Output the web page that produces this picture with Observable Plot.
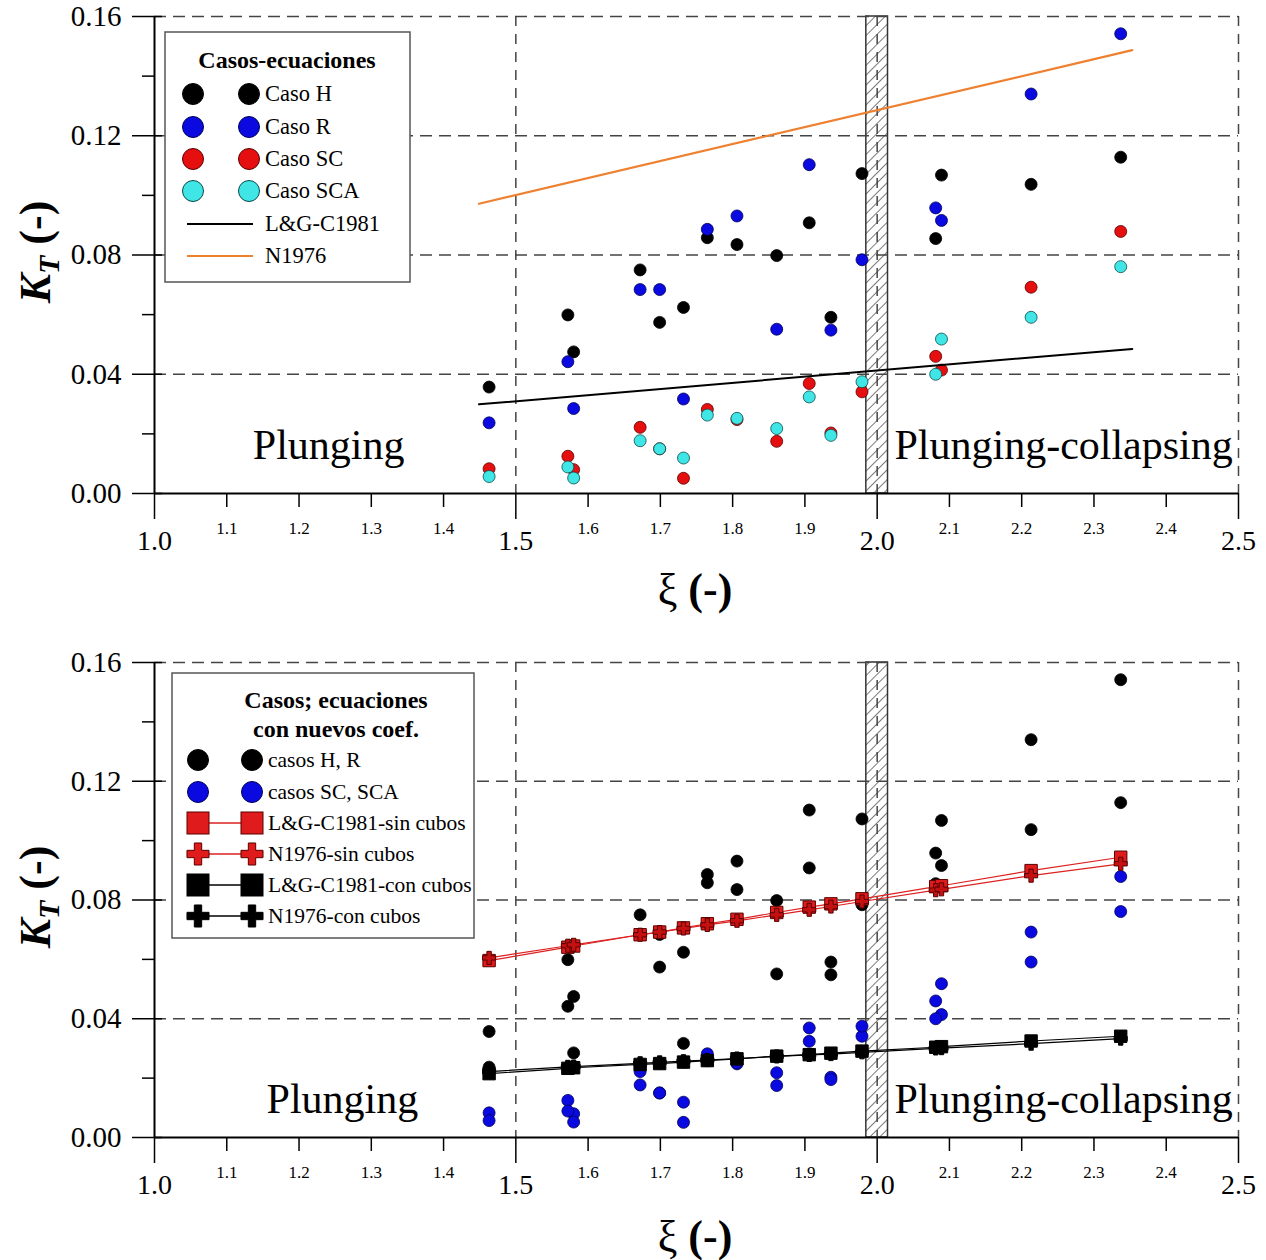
<!DOCTYPE html>
<html><head><meta charset="utf-8">
<script src="https://cdn.jsdelivr.net/npm/d3@7"></script>
<script src="https://cdn.jsdelivr.net/npm/@observablehq/plot@0.6"></script>
<style>
body{margin:0;background:#fff;}
#wrap{position:relative;width:1266px;height:1260px;background:#fff;}
#wrap svg{display:block;}
</style>
</head><body><div id="wrap"></div>
<script>
// ---------- data ----------
const xi       = [1.463,1.572,1.580,1.672,1.699,1.732,1.765,1.806,1.861,1.906,1.936,1.979,2.081,2.089,2.213,2.337];
const casoH    = [0.0357,0.0599,0.0475,0.0750,0.0574,0.0624,0.0858,0.0835,0.0798,0.0908,0.0591,0.1073,0.0855,0.1068,0.1037,0.1128];
const casoR    = [0.0237,0.0442,0.0285,0.0684,0.0684,0.0317,0.0886,0.0931,0.0551,0.1103,0.0548,0.0784,0.0958,0.0916,0.1340,0.1542];
const casoSC   = [0.0083,0.0125,0.0080,0.0222,0.0150,0.0051,0.0282,0.0248,0.0175,0.0369,0.0203,0.0341,0.0460,0.0414,0.0692,0.0879];
const casoSCA  = [0.0057,0.0089,0.0052,0.0177,0.0150,0.0119,0.0263,0.0252,0.0218,0.0324,0.0195,0.0375,0.0400,0.0518,0.0591,0.0761];
// equations with original coefficients (top panel)
const eqX      = [1.449, 2.353];
const lgC1981  = [0.0299, 0.0485];
const n1976    = [0.0972, 0.1487];
// equations with new coefficients (bottom panel), evaluated at each xi
const lgSin    = [0.0596,0.0641,0.0645,0.0683,0.0692,0.0706,0.0720,0.0735,0.0758,0.0776,0.0787,0.0804,0.0845,0.0848,0.0899,0.0944];
const nSin     = [0.0605,0.0646,0.0649,0.0683,0.0692,0.0704,0.0716,0.0730,0.0750,0.0767,0.0778,0.0795,0.0833,0.0836,0.0882,0.0922];
const lgCon    = [0.0215,0.0233,0.0235,0.0246,0.0249,0.0254,0.0259,0.0265,0.0274,0.0279,0.0284,0.0291,0.0304,0.0306,0.0325,0.0341];
const nCon     = [0.0222,0.0238,0.0239,0.0250,0.0253,0.0257,0.0261,0.0266,0.0273,0.0278,0.0281,0.0287,0.0300,0.0301,0.0316,0.0333];
// axes
const xMajorTicks = [1.0,1.5,2.0,2.5];
const xMinorTicks = [1.1,1.2,1.3,1.4,1.6,1.7,1.8,1.9,2.1,2.2,2.3,2.4];
const yMajorTicks = [0,0.04,0.08,0.12,0.16];
const yMinorTicks = [0.02,0.06,0.10,0.14];
const gridY = [0.04,0.08,0.12,0.16];
const gridX = [1.5,2.0,2.5];
const band = [{x1:1.985, x2:2.015}];
const regimes = ["Plunging","Plunging-collapsing"];
const legendTop = ["Caso H","Caso R","Caso SC","Caso SCA","L&G-C1981","N1976"];
const legendBottom = ["casos H, R","casos SC, SCA","L&G-C1981-sin cubos","N1976-sin cubos","L&G-C1981-con cubos","N1976-con cubos"];

const rows = xi.map((x,i)=>({xi:x,H:casoH[i],R:casoR[i],SC:casoSC[i],SCA:casoSCA[i],lgSin:lgSin[i],nSin:nSin[i],lgCon:lgCon[i],nCon:nCon[i]}));
const eqRows = eqX.map((x,i)=>({xi:x,lg:lgC1981[i],n:n1976[i]}));

const FONT = "'Liberation Serif','Times New Roman',serif";
const COL = {black:"#000", blue:"#0a0ae0", red:"#e60f0f", cyan:"#40e6e6", orange:"#ee8030",
             blueS:"#00005a", redS:"#5a0000", cyanS:"#0a4a4a"};

function frameMarks(id){
  return [
    Plot.rect(band,{x1:"x1",x2:"x2",y1:0,y2:0.16,fill:`url(#${id})`,stroke:"#333",strokeWidth:1.5}),
    Plot.ruleY(gridY,{stroke:"#444",strokeWidth:1.5,strokeDasharray:"12,7"}),
    Plot.ruleX(gridX,{stroke:"#444",strokeWidth:1.5,strokeDasharray:"10,8"}),
    Plot.axisX({ticks:xMinorTicks,tickSize:14,tickPadding:14,fontSize:17,tickFormat:d=>d.toFixed(1),label:null,strokeWidth:1.5}),
    Plot.axisX({ticks:xMajorTicks,tickSize:26,tickPadding:11,fontSize:28,tickFormat:d=>d.toFixed(1),label:null,strokeWidth:1.5}),
    Plot.axisY({ticks:yMajorTicks,tickSize:30,dx:8,tickPadding:11,fontSize:29,tickFormat:d=>d.toFixed(2),label:null,strokeWidth:1.5}),
    Plot.axisY({ticks:yMinorTicks,tickSize:12,tickFormat:()=>"",label:null,strokeWidth:1.5}),
    Plot.ruleY([0],{stroke:"#000",strokeWidth:2}),
    Plot.ruleX([1.0],{stroke:"#000",strokeWidth:2})
  ];
}

function addDefs(svg,id){
  const defs = d3.select(svg).insert("defs",":first-child");
  const p = defs.append("pattern").attr("id",id).attr("patternUnits","userSpaceOnUse")
    .attr("width",7).attr("height",7).attr("patternTransform","rotate(45)");
  p.append("rect").attr("width",7).attr("height",7).attr("fill","#fff");
  p.append("line").attr("x1",0).attr("y1",0).attr("x2",0).attr("y2",7).attr("stroke","#333").attr("stroke-width",1.3);
}

function yLabel(svg,cx,cy){
  const t = d3.select(svg).append("text").attr("transform",`translate(${cx},${cy}) rotate(-90)`)
    .attr("text-anchor","middle").attr("font-family",FONT).attr("font-size",44).attr("font-weight","bold").attr("fill","#000");
  t.append("tspan").attr("font-style","italic").text("K");
  t.append("tspan").attr("font-style","italic").attr("font-size",30).attr("dy",9).text("T");
  t.append("tspan").attr("dy",-9).text(" (-)");
}
function xLabel(svg,cx,by){
  const t = d3.select(svg).append("text").attr("x",cx).attr("y",by).attr("text-anchor","middle")
    .attr("font-family",FONT).attr("font-size",44).attr("fill","#000");
  t.append("tspan").text("ξ");
  t.append("tspan").attr("font-weight","bold").text(" (-)");
}

function sym(g,kind,x,y,fill,stroke){
  if(kind==="dot"){
    g.append("circle").attr("cx",x).attr("cy",y).attr("r",10.5).attr("fill",fill).attr("stroke",stroke).attr("stroke-width",1);
  } else if(kind==="square"){
    g.append("rect").attr("x",x-11).attr("y",y-11).attr("width",22).attr("height",22).attr("fill",fill).attr("stroke",stroke).attr("stroke-width",1);
  } else if(kind==="cross"){
    g.append("path").attr("transform",`translate(${x},${y})`).attr("d",d3.symbol(d3.symbolCross,270)()).attr("fill",fill).attr("stroke",stroke).attr("stroke-width",1);
  }
}

function legend(svg,spec){
  const g = d3.select(svg).append("g").attr("font-family",FONT).attr("fill","#000");
  g.append("rect").attr("x",spec.box[0]).attr("y",spec.box[1]).attr("width",spec.box[2]).attr("height",spec.box[3])
    .attr("fill","#fff").attr("stroke","#555").attr("stroke-width",1.5);
  spec.title.forEach((t,i)=>g.append("text").attr("x",spec.titleX).attr("y",spec.titleY[i]).attr("text-anchor","middle")
    .attr("font-size",spec.titleSize).attr("font-weight","bold").text(t));
  spec.items.forEach((it,i)=>{
    const y = spec.rowY[i];
    if(it.line) g.append("line").attr("x1",spec.lineX[0]).attr("x2",spec.lineX[1]).attr("y1",y).attr("y2",y)
      .attr("stroke",it.line).attr("stroke-width",it.lw||1.3);
    if(it.kind){ sym(g,it.kind,spec.symX[0],y,it.fill,it.stroke); sym(g,it.kind,spec.symX[1],y,it.fill,it.stroke); }
    g.append("text").attr("x",spec.labelX).attr("y",y+7).attr("text-anchor","start")
      .attr("font-size",spec.labelSize).attr("fill","#000").text(it.label);
  });
}

const wrap = document.getElementById("wrap");

// ---------------- TOP PANEL ----------------
const topPlot = Plot.plot({
  width:1266, height:640,
  marginLeft:154, marginRight:28, marginTop:16, marginBottom:147,
  x:{domain:[1.0,2.5]}, y:{domain:[0,0.16]},
  style:{fontFamily:FONT, color:"#000", background:"transparent", overflow:"visible"},
  marks:[
    ...frameMarks("hatchTop"),
    Plot.text([regimes[0]],{x:1.241,y:0.0162,text:d=>d,fontSize:42,fontFamily:FONT,fill:"#000"}),
    Plot.text([regimes[1]],{x:2.258,y:0.0162,text:d=>d,fontSize:42,fontFamily:FONT,fill:"#000"}),
    Plot.dot(rows,{x:"xi",y:"H",r:6,fill:COL.black,stroke:"#000",strokeWidth:0.8}),
    Plot.dot(rows,{x:"xi",y:"R",r:6,fill:COL.blue,stroke:COL.blueS,strokeWidth:0.8}),
    Plot.dot(rows,{x:"xi",y:"SC",r:6,fill:COL.red,stroke:COL.redS,strokeWidth:0.8}),
    Plot.dot(rows,{x:"xi",y:"SCA",r:6,fill:COL.cyan,stroke:COL.cyanS,strokeWidth:0.8}),
    Plot.line(eqRows,{x:"xi",y:"lg",stroke:"#000",strokeWidth:2}),
    Plot.line(eqRows,{x:"xi",y:"n",stroke:COL.orange,strokeWidth:2.2})
  ]
});
addDefs(topPlot,"hatchTop");
legend(topPlot,{box:[165,32,245,250],title:["Casos-ecuaciones"],titleX:287,titleY:[68],titleSize:24,labelSize:22.5,
  rowY:[94,127,159,191,224,256],symX:[193,249],lineX:[187,253],labelX:265,
  items:[
    {kind:"dot",fill:COL.black,stroke:"#000",label:legendTop[0]},
    {kind:"dot",fill:COL.blue,stroke:COL.blueS,label:legendTop[1]},
    {kind:"dot",fill:COL.red,stroke:COL.redS,label:legendTop[2]},
    {kind:"dot",fill:COL.cyan,stroke:COL.cyanS,label:legendTop[3]},
    {line:"#000",lw:2,label:legendTop[4]},
    {line:COL.orange,lw:2,label:legendTop[5]}
  ]});
yLabel(topPlot,50,252);
xLabel(topPlot,695,604);
wrap.appendChild(topPlot);

// ---------------- BOTTOM PANEL ----------------
const bottomPlot = Plot.plot({
  width:1266, height:620,
  marginLeft:154, marginRight:28, marginTop:22, marginBottom:123,
  x:{domain:[1.0,2.5]}, y:{domain:[0,0.16]},
  style:{fontFamily:FONT, color:"#000", background:"transparent", overflow:"visible"},
  marks:[
    ...frameMarks("hatchBot"),
    Plot.text([regimes[0]],{x:1.260,y:0.0128,text:d=>d,fontSize:42,fontFamily:FONT,fill:"#000"}),
    Plot.text([regimes[1]],{x:2.258,y:0.0128,text:d=>d,fontSize:42,fontFamily:FONT,fill:"#000"}),
    Plot.dot(rows,{x:"xi",y:"H",r:6,fill:COL.black,stroke:"#000",strokeWidth:0.8}),
    Plot.dot(rows,{x:"xi",y:"R",r:6,fill:COL.black,stroke:"#000",strokeWidth:0.8}),
    Plot.dot(rows,{x:"xi",y:"SC",r:6,fill:COL.blue,stroke:COL.blueS,strokeWidth:0.8}),
    Plot.dot(rows,{x:"xi",y:"SCA",r:6,fill:COL.blue,stroke:COL.blueS,strokeWidth:0.8}),
    Plot.line(rows,{x:"xi",y:"lgCon",stroke:"#000",strokeWidth:1.2}),
    Plot.line(rows,{x:"xi",y:"nCon",stroke:"#000",strokeWidth:1.2}),
    Plot.dot(rows,{x:"xi",y:"lgCon",symbol:"square",r:7,fill:"#000",stroke:"#000",strokeWidth:1}),
    Plot.dot(rows,{x:"xi",y:"nCon",symbol:"cross",r:5.5,fill:"#000",stroke:"#000",strokeWidth:1}),
    Plot.line(rows,{x:"xi",y:"lgSin",stroke:"#dd2020",strokeWidth:1.2}),
    Plot.line(rows,{x:"xi",y:"nSin",stroke:"#dd2020",strokeWidth:1.2}),
    Plot.dot(rows,{x:"xi",y:"lgSin",symbol:"square",r:7,fill:"#e01b1b",stroke:COL.redS,strokeWidth:1}),
    Plot.dot(rows,{x:"xi",y:"nSin",symbol:"cross",r:5.5,fill:"#c41010",stroke:COL.redS,strokeWidth:1})
  ]
});
addDefs(bottomPlot,"hatchBot");
legend(bottomPlot,{box:[172,33,302,265],title:["Casos; ecuaciones","con nuevos coef."],titleX:336,titleY:[68,97],titleSize:24,labelSize:21.5,
  rowY:[120,152,183,214,245,276],symX:[198,252],lineX:[198,252],labelX:268,
  items:[
    {kind:"dot",fill:COL.black,stroke:"#000",label:legendBottom[0]},
    {kind:"dot",fill:COL.blue,stroke:COL.blueS,label:legendBottom[1]},
    {kind:"square",fill:"#e01b1b",stroke:COL.redS,line:"#dd2020",label:legendBottom[2]},
    {kind:"cross",fill:"#e01b1b",stroke:COL.redS,line:"#dd2020",label:legendBottom[3]},
    {kind:"square",fill:"#000",stroke:"#000",line:"#000",label:legendBottom[4]},
    {kind:"cross",fill:"#000",stroke:"#000",line:"#000",label:legendBottom[5]}
  ]});
yLabel(bottomPlot,50,257);
xLabel(bottomPlot,695,611);
wrap.appendChild(bottomPlot);
</script>
</body></html>
